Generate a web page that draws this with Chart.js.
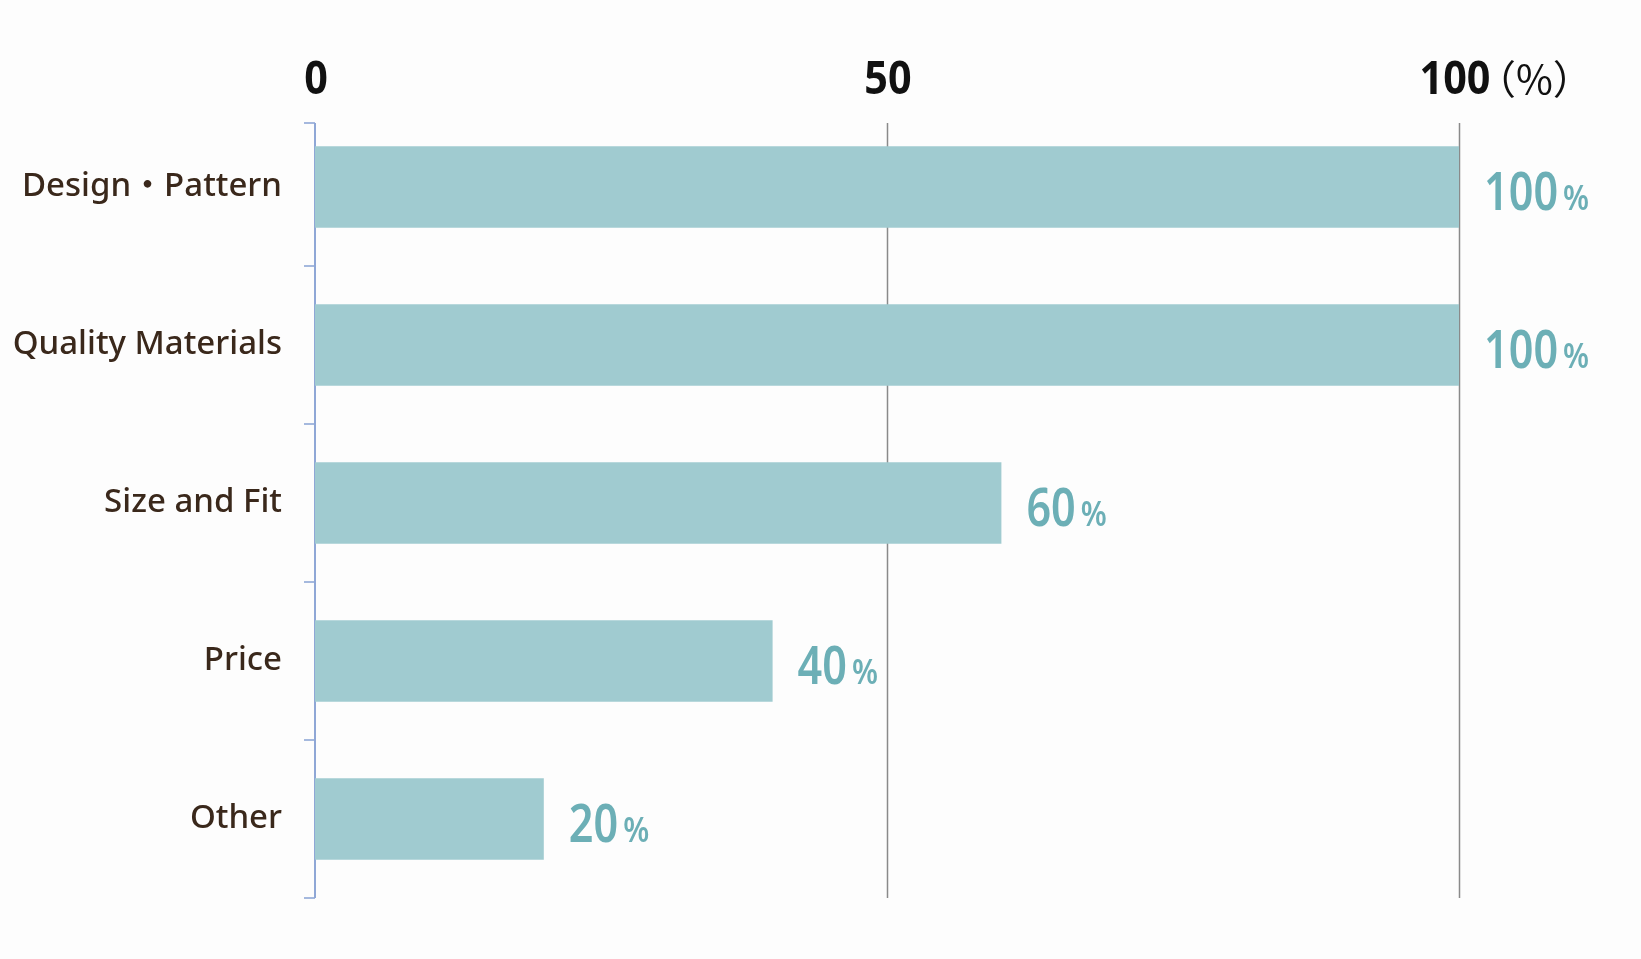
<!DOCTYPE html>
<html>
<head>
<meta charset="utf-8">
<script src="https://cdn.jsdelivr.net/npm/chart.js@4.4.1/dist/chart.umd.min.js"></script>
<style>
  html, body { margin: 0; padding: 0; background: #fdfdfd; }
  #wrap { width: 1641px; height: 959px; }
</style>
</head>
<body>
<div id="wrap"><canvas id="c" width="1641" height="959"></canvas></div>
<script>
// ---- data ----
const categories = ['Design・Pattern', 'Quality Materials', 'Size and Fit', 'Price', 'Other'];
const values = [100, 100, 60, 40, 20];
const xTickValues = [0, 50, 100];
const unitLabel = '（%）';
const valueSuffix = '%';

// ---- styles ----
const BAR_COLOR = '#a0cbd0';
const LABEL_COLOR = '#6cafb6';
const AXIS_BLUE = '#8fa7d6';
const GRID_GRAY = '#8a8a8a';
const SANS = '"Noto Sans", "Open Sans", sans-serif';
const AXIS_TOP_INSET = 15;

// draw text horizontally condensed
function condensedText(ctx, text, x, y, font, squeeze, align) {
  ctx.save();
  ctx.font = font;
  const w = ctx.measureText(text).width * squeeze;
  let left = x;
  if (align === 'center') left = x - w / 2;
  ctx.translate(left, y);
  ctx.scale(squeeze, 1);
  ctx.textAlign = 'left';
  ctx.fillText(text, 0, 0);
  ctx.restore();
  return w;
}

const axisPlugin = {
  id: 'axisPlugin',
  beforeDatasetsDraw(chart) {
    const ctx = chart.ctx;
    const xs = chart.scales.x, ys = chart.scales.y;
    const area = chart.chartArea;
    const topY = area.top + AXIS_TOP_INSET;
    ctx.save();
    // vertical gridlines (except 0)
    ctx.strokeStyle = GRID_GRAY;
    ctx.lineWidth = 1.5;
    xTickValues.forEach(v => {
      if (v === 0) return;
      const px = Math.round(xs.getPixelForValue(v)) + 0.5;
      ctx.beginPath(); ctx.moveTo(px, topY); ctx.lineTo(px, area.bottom); ctx.stroke();
    });
    // y axis line
    const ax = xs.getPixelForValue(0);
    ctx.strokeStyle = AXIS_BLUE;
    ctx.lineWidth = 2;
    ctx.beginPath(); ctx.moveTo(ax, topY); ctx.lineTo(ax, area.bottom); ctx.stroke();
    // tick marks at band boundaries
    ctx.lineWidth = 1.6;
    const ticksY = [topY];
    for (let i = 0; i < categories.length - 1; i++) {
      ticksY.push((ys.getPixelForValue(i) + ys.getPixelForValue(i + 1)) / 2);
    }
    ticksY.push(area.bottom);
    ticksY.forEach(ty => {
      ctx.beginPath(); ctx.moveTo(ax - 11, ty); ctx.lineTo(ax, ty); ctx.stroke();
    });
    // x tick labels (top)
    ctx.fillStyle = '#111111';
    ctx.textBaseline = 'alphabetic';
    xTickValues.forEach((v, i) => {
      const px = xs.getPixelForValue(v);
      const shift = i === xTickValues.length - 1 ? -4 : 1;
      condensedText(ctx, String(v), px + shift, 94, 'bold 47px ' + SANS, 0.88, 'center');
    });
    // unit label
    const lastPx = xs.getPixelForValue(xTickValues[xTickValues.length - 1]);
    ctx.font = '40px "Noto Sans CJK JP", sans-serif';
    ctx.textAlign = 'left';
    ctx.fillText(unitLabel, lastPx + 17, 94);
    ctx.restore();
  },
  afterDatasetsDraw(chart) {
    const ctx = chart.ctx;
    const meta = chart.getDatasetMeta(0);
    ctx.save();
    ctx.fillStyle = LABEL_COLOR;
    ctx.textBaseline = 'alphabetic';
    meta.data.forEach((bar, i) => {
      const num = String(values[i]);
      const x = bar.x + 25;
      const y = bar.y + 23;
      const w = condensedText(ctx, num, x, y, '600 52px ' + SANS, 0.83, 'left');
      condensedText(ctx, valueSuffix, x + w + 5, y, '600 35px ' + SANS, 0.85, 'left');
    });
    ctx.restore();
  }
};

new Chart(document.getElementById('c'), {
  type: 'bar',
  data: {
    labels: categories,
    datasets: [{
      data: values,
      backgroundColor: BAR_COLOR,
      borderWidth: 0,
      categoryPercentage: 1,
      barPercentage: 0.517
    }]
  },
  options: {
    indexAxis: 'y',
    responsive: false,
    animation: false,
    events: [],
    layout: { padding: { left: 0, right: 182, top: 0, bottom: 61 } },
    plugins: { legend: { display: false }, tooltip: { enabled: false } },
    scales: {
      x: {
        type: 'linear',
        position: 'top',
        min: 0,
        max: 100,
        afterBuildTicks: (s) => { s.ticks = xTickValues.map(v => ({ value: v })); },
        afterFit: (s) => { s.height = 108; },
        grid: { display: false, drawTicks: false },
        border: { display: false },
        ticks: { display: false }
      },
      y: {
        type: 'category',
        afterFit: (s) => { s.width = 315; },
        grid: { display: false, drawTicks: false },
        border: { display: false },
        ticks: {
          padding: 33,
          color: '#3a281b',
          font: { family: '"Noto Sans", "Noto Sans CJK JP", sans-serif', size: 33, weight: '500' }
        }
      }
    }
  },
  plugins: [axisPlugin]
});
</script>
</body>
</html>
